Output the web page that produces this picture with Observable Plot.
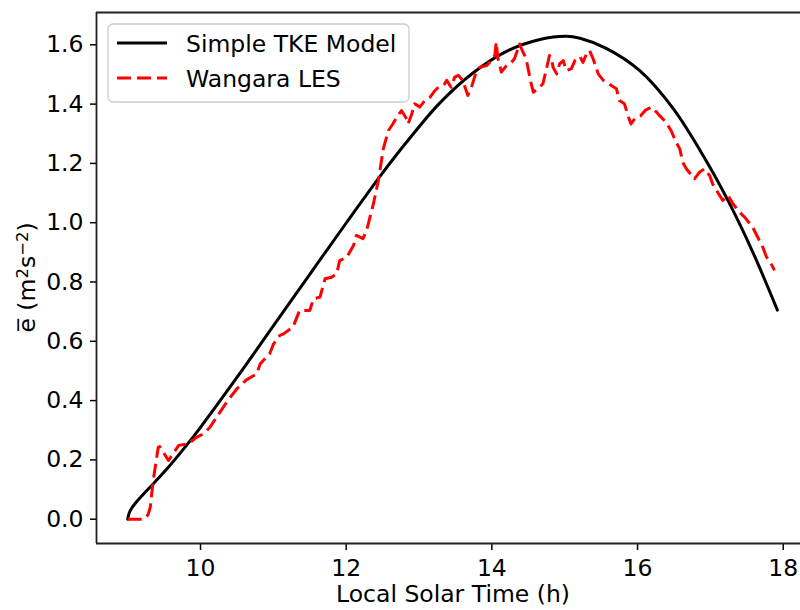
<!DOCTYPE html>
<html><head><meta charset="utf-8">
<script src="https://cdn.jsdelivr.net/npm/d3@7"></script>
<script src="https://cdn.jsdelivr.net/npm/@observablehq/plot@0.6"></script>
<style>html,body{margin:0;padding:0;background:#fff;} #chart{position:relative;width:800px;height:610px;overflow:hidden;}</style>
</head><body><div id="chart"></div>
<script>
const modelTime = [9.0, 9.02, 9.05, 9.1, 9.2, 9.35, 9.54, 9.81, 10.0, 10.5, 11.0, 11.5, 12.0, 12.5, 12.83, 13.29, 13.74, 14.2, 14.66, 15.02, 15.21, 15.57, 16.03, 16.49, 16.94, 17.26, 17.58, 17.92];
const modelTKE  = [0.0, 0.02, 0.035, 0.052, 0.08, 0.119, 0.17, 0.25, 0.31, 0.478, 0.652, 0.826, 0.999, 1.168, 1.272, 1.405, 1.505, 1.578, 1.618, 1.629, 1.622, 1.588, 1.513, 1.385, 1.21, 1.066, 0.902, 0.705];

const lesTime = [9.0, 9.22, 9.28, 9.31, 9.35, 9.42, 9.44, 9.56, 9.70, 9.83, 9.95, 10.04, 10.13, 10.22, 10.36, 10.50, 10.63, 10.77, 10.82, 10.95, 11.0, 11.09, 11.14, 11.27, 11.36, 11.50, 11.55, 11.64, 11.71, 11.80, 11.87, 11.91, 12.01, 12.10, 12.14, 12.23, 12.28, 12.37, 12.44, 12.51, 12.58, 12.64, 12.71, 12.76, 12.83, 12.85, 12.90, 12.94, 13.01, 13.08, 13.15, 13.22, 13.29, 13.35, 13.38, 13.44, 13.49, 13.54, 13.60, 13.67, 13.72, 13.77, 13.83, 13.93, 13.99, 14.04, 14.06, 14.08, 14.13, 14.20, 14.27, 14.31, 14.38, 14.41, 14.47, 14.54, 14.57, 14.63, 14.70, 14.75, 14.79, 14.82, 14.84, 14.89, 14.93, 14.98, 15.02, 15.09, 15.14, 15.21, 15.25, 15.30, 15.34, 15.39, 15.46, 15.53, 15.57, 15.64, 15.71, 15.75, 15.82, 15.87, 15.91, 15.97, 16.04, 16.11, 16.19, 16.26, 16.30, 16.39, 16.46, 16.53, 16.58, 16.62, 16.67, 16.78, 16.85, 16.92, 16.99, 17.03, 17.10, 17.17, 17.24, 17.31, 17.40, 17.47, 17.58, 17.65, 17.72, 17.77, 17.81, 17.88];
const lesTKE  = [0.0, 0.0, 0.015, 0.04, 0.13, 0.243, 0.245, 0.198, 0.249, 0.254, 0.277, 0.288, 0.31, 0.344, 0.395, 0.44, 0.47, 0.49, 0.524, 0.558, 0.59, 0.62, 0.625, 0.648, 0.704, 0.704, 0.743, 0.749, 0.811, 0.816, 0.828, 0.872, 0.884, 0.923, 0.957, 0.946, 0.974, 1.06, 1.14, 1.25, 1.311, 1.333, 1.362, 1.378, 1.35, 1.333, 1.367, 1.401, 1.39, 1.412, 1.423, 1.446, 1.463, 1.468, 1.48, 1.457, 1.491, 1.497, 1.48, 1.429, 1.457, 1.497, 1.524, 1.53, 1.547, 1.564, 1.609, 1.558, 1.508, 1.53, 1.541, 1.553, 1.603, 1.585, 1.553, 1.468, 1.44, 1.452, 1.468, 1.519, 1.564, 1.553, 1.524, 1.502, 1.536, 1.547, 1.513, 1.519, 1.547, 1.56, 1.541, 1.57, 1.581, 1.553, 1.502, 1.48, 1.474, 1.463, 1.452, 1.412, 1.401, 1.36, 1.333, 1.353, 1.36, 1.38, 1.39, 1.373, 1.362, 1.339, 1.311, 1.271, 1.249, 1.204, 1.182, 1.148, 1.17, 1.182, 1.159, 1.131, 1.103, 1.075, 1.092, 1.064, 1.035, 1.019, 0.985, 0.951, 0.917, 0.884, 0.873, 0.839];

const xTicks = [10, 12, 14, 16, 18];
const yTicks = [0.0, 0.2, 0.4, 0.6, 0.8, 1.0, 1.2, 1.4, 1.6];
const seriesNames = ["Simple TKE Model", "Wangara LES"];
const xLabel = "Local Solar Time (h)";
// y label pieces: base text and superscripts
const yLabelParts = [["e\u0305 (m", false], ["2", true], ["s", false], ["\u22122", true], [")", false]];

const model = modelTime.map((t, i) => ({t, e: modelTKE[i]}));
const les = lesTime.map((t, i) => ({t, e: lesTKE[i]}));

const xDomain = [8.572, 18.237];
const yDomain = [-0.082, 1.709];
const FONT = "DejaVu Sans";
const FS = 23.5;

const plot = Plot.plot({
  width: 800, height: 610,
  marginLeft: 96, marginRight: 0, marginTop: 12, marginBottom: 67,
  style: {fontFamily: FONT, fontSize: FS + "px", color: "#000", background: "#fff", overflow: "visible"},
  x: {domain: xDomain},
  y: {domain: yDomain},
  marks: [
    Plot.axisX({ticks: xTicks, tickSize: 7, tickPadding: 9, tickFormat: d3.format("d"), label: null, strokeWidth: 1.5}),
    Plot.axisY({ticks: yTicks, tickSize: 6, tickPadding: 7, tickFormat: d3.format(".1f"), label: null, strokeWidth: 1.5}),
    Plot.line(model, {x: "t", y: "e", stroke: "#000", strokeWidth: 3, curve: "catmull-rom"}),
    Plot.line(les, {x: "t", y: "e", stroke: "#ff0000", strokeWidth: 3, strokeDasharray: "14,6", strokeLinecap: "butt", strokeLinejoin: "round"}),
    Plot.ruleX([xDomain[0]], {stroke: "#222", strokeWidth: 1.8}),
    Plot.ruleY([yDomain[0], yDomain[1]], {stroke: "#222", strokeWidth: 1.8})
  ]
});

const svg = d3.select(plot);
// axis labels
svg.append("text").attr("x", 453).attr("y", 602).attr("text-anchor", "middle")
  .attr("font-family", FONT).attr("font-size", FS).attr("fill", "#000").text(xLabel);
const yl = svg.append("text").attr("transform", "translate(35,277.5) rotate(-90)").attr("text-anchor", "middle")
  .attr("font-family", FONT).attr("font-size", FS).attr("fill", "#000");
yLabelParts.forEach(([txt, sup]) => {
  const ts = yl.append("tspan").text(txt);
  if (sup) ts.attr("font-size", FS * 0.7).attr("baseline-shift", "45%");
});

// legend
const lg = svg.append("g").attr("text-anchor", "start");
lg.append("rect").attr("x", 108).attr("y", 24).attr("width", 301).attr("height", 78).attr("rx", 5)
  .attr("fill", "rgba(255,255,255,0.8)").attr("stroke", "#cccccc").attr("stroke-width", 1.3);
const legendStyles = [
  {stroke: "#000", dash: null, cy: 43},
  {stroke: "#ff0000", dash: "14,6", cy: 78}
];
seriesNames.forEach((name, i) => {
  const s = legendStyles[i];
  const ln = lg.append("line").attr("x1", 117).attr("x2", 167).attr("y1", s.cy).attr("y2", s.cy)
    .attr("stroke", s.stroke).attr("stroke-width", 3);
  if (s.dash) ln.attr("stroke-dasharray", s.dash);
  lg.append("text").attr("x", 186).attr("y", s.cy + 8.5).attr("text-anchor", "start")
    .attr("font-family", FONT).attr("font-size", FS).attr("fill", "#000").text(name);
});

document.getElementById("chart").appendChild(plot);
</script>
</body></html>
